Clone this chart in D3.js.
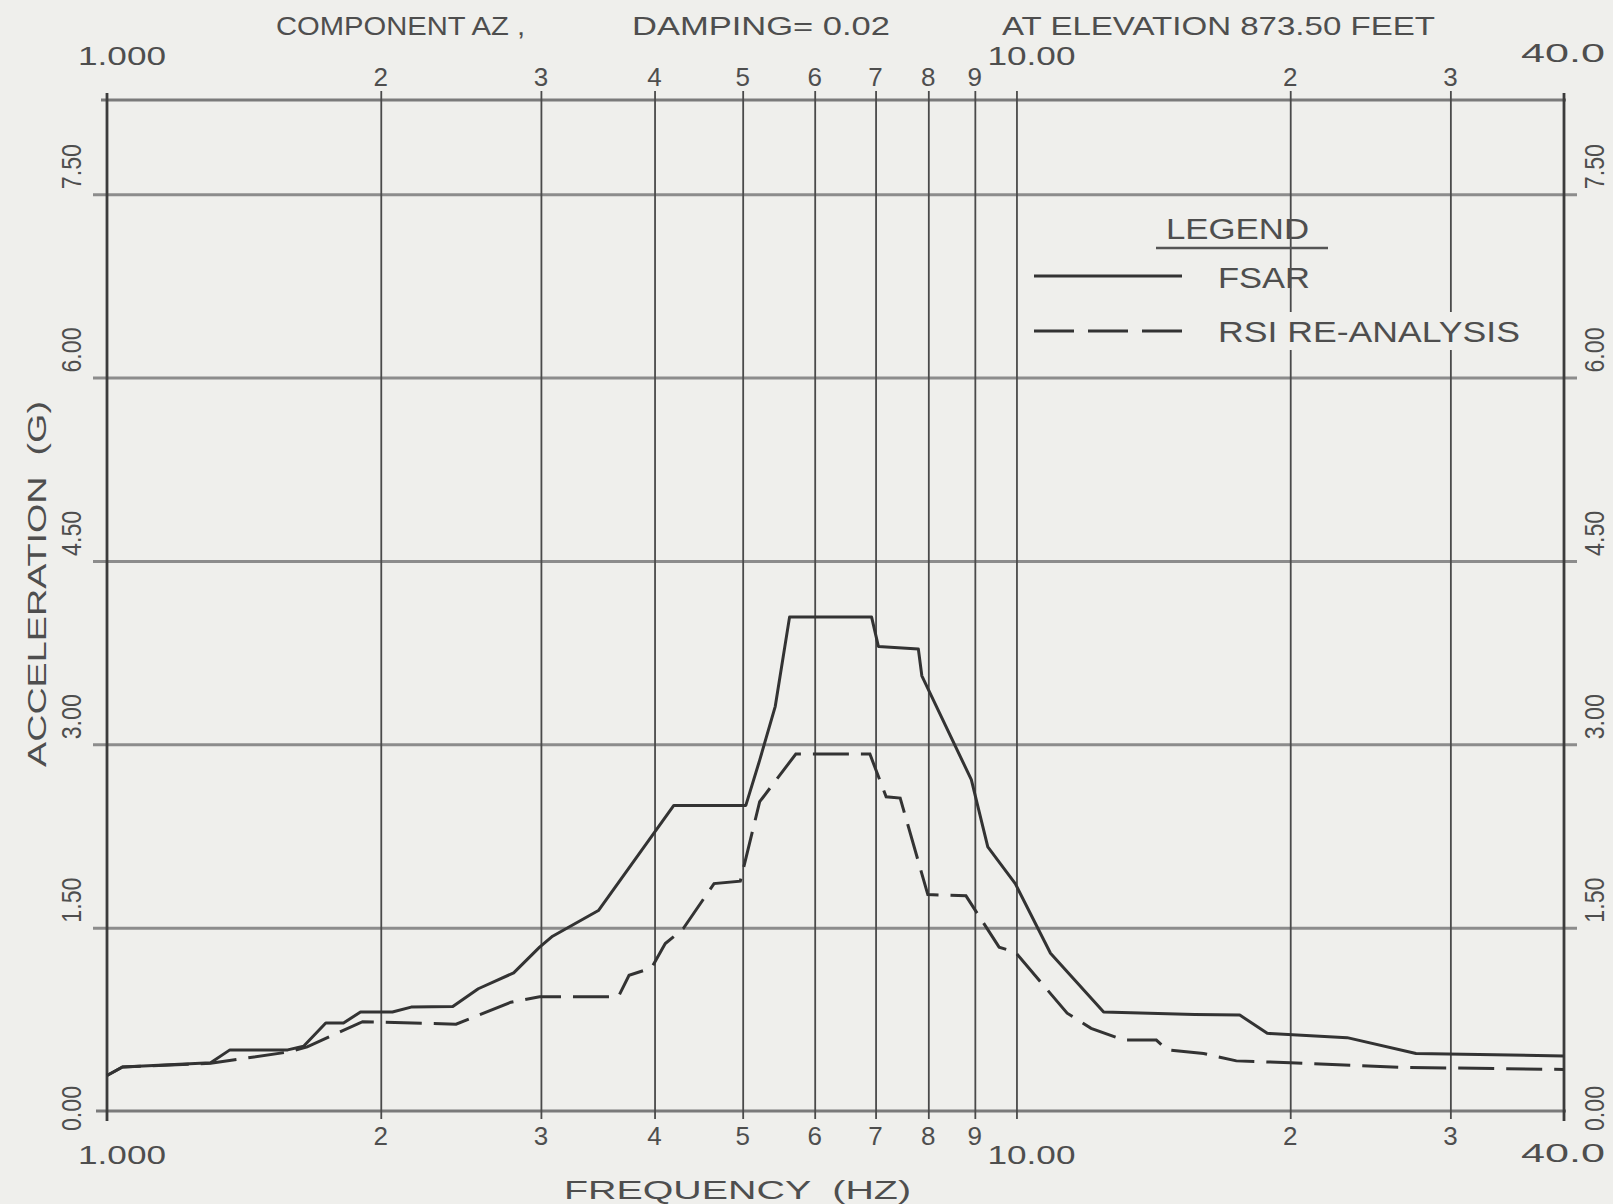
<!DOCTYPE html>
<html>
<head>
<meta charset="utf-8">
<script src="https://cdnjs.cloudflare.com/ajax/libs/d3/7.8.5/d3.min.js"></script>
<style>
  html, body { margin: 0; padding: 0; background: #efefec; }
  svg text { font-family: "Liberation Sans", Arial, sans-serif; fill: #4e4e4e; white-space: pre; }
</style>
</head>
<body>
<div id="chart"></div>
<script>
// response spectrum, component AZ, damping 0.02, elevation 873.50 ft

const fsarFreq = [1.00, 1.04, 1.30, 1.365, 1.58, 1.645, 1.74, 1.82, 1.90, 2.06, 2.16, 2.40, 2.56, 2.80, 2.99, 3.09, 3.47,
                  4.20, 5.04, 5.22, 5.43, 5.63, 6.93, 7.05, 7.80, 7.87, 8.92, 9.30, 9.97, 10.9, 12.47, 15.7, 17.6,
                  18.87, 23.1, 27.5, 40.0];
const fsarAcc = [0.29, 0.36, 0.395, 0.50, 0.50, 0.53, 0.72, 0.72, 0.81, 0.81, 0.85, 0.855, 1.00, 1.13, 1.34, 1.43, 1.64,
                 2.50, 2.50, 2.87, 3.31, 4.04, 4.04, 3.80, 3.78, 3.56, 2.71, 2.16, 1.86, 1.29, 0.81, 0.79, 0.785,
                 0.635, 0.60, 0.47, 0.45];

const rsiFreq = [1.00, 1.04, 1.30, 1.59, 1.66, 1.91, 2.42, 2.78, 2.99, 3.65, 3.75, 3.97, 4.11, 4.30, 4.65, 4.97, 5.22,
                 5.72, 6.90, 7.19, 7.45, 7.99, 8.80, 9.57, 9.97, 11.37, 12.08, 13.12, 14.25, 14.65, 16.06, 17.45,
                 20.0, 26.4, 40.0];
const rsiAcc = [0.29, 0.36, 0.39, 0.485, 0.525, 0.73, 0.71, 0.89, 0.935, 0.935, 1.11, 1.17, 1.37, 1.49, 1.86, 1.88, 2.53,
                2.92, 2.92, 2.57, 2.56, 1.77, 1.76, 1.34, 1.30, 0.80, 0.676, 0.58, 0.58, 0.50, 0.47, 0.41,
                0.395, 0.357, 0.34];

const minorFreqs = [2, 3, 4, 5, 6, 7, 8, 9, 20, 30];
const minorLabels = ["2", "3", "4", "5", "6", "7", "8", "9", "2", "3"];
const majorFreqs = [1, 10, 40];
const majorLabels = ["1.000", "10.00", "40.0"];
const accTicks = [0, 1.5, 3, 4.5, 6, 7.5];
const accLabels = ["0.00", "1.50", "3.00", "4.50", "6.00", "7.50"];

const titleParts = ["COMPONENT AZ ,", "DAMPING= 0.02", "AT ELEVATION 873.50 FEET"];
const seriesNames = ["FSAR", "RSI RE-ANALYSIS"];

const W = 1613, H = 1204;
const bg = "#efefec";

const x = d3.scaleLog().domain([1, 40]).range([107, 1564]);
const y = d3.scaleLinear().domain([0, 8.27]).range([1111, 100]);
const yTop = y.range()[1], yBottom = y(0);

const svg = d3.select("#chart").append("svg")
    .attr("width", W).attr("height", H)
    .style("display", "block");

svg.append("rect").attr("width", W).attr("height", H).attr("fill", bg);

// horizontal grid
svg.append("g")
    .attr("transform", `translate(93,0)`)
    .call(d3.axisRight(y).tickValues(accTicks.filter(v => v > 0)).tickSize(1577 - 93).tickFormat(""))
    .call(g => g.select(".domain").remove())
    .selectAll("line")
    .attr("stroke", "#8c8c8c").attr("stroke-width", 3);

// top and bottom frame lines
svg.append("g").selectAll("line")
    .data([yTop, yBottom])
    .join("line")
    .attr("x1", (d, i) => i ? 96 : 101).attr("x2", 1566)
    .attr("y1", d => d).attr("y2", d => d)
    .attr("stroke", "#7a7a7a").attr("stroke-width", 3);

// vertical grid incl. 10
svg.append("g")
    .attr("transform", `translate(0,${yBottom + 8})`)
    .call(d3.axisTop(x).tickValues(minorFreqs.concat([10])).tickSize(yBottom + 8 - (yTop - 9)).tickFormat(""))
    .call(g => g.select(".domain").remove())
    .selectAll("line")
    .attr("stroke", "#4a4a4a").attr("stroke-width", 1.8);

// left / right borders
svg.append("g").selectAll("line")
    .data([1, 40])
    .join("line")
    .attr("x1", d => x(d)).attr("x2", d => x(d))
    .attr("y1", yTop - 7).attr("y2", yBottom + 10)
    .attr("stroke", "#3c3c3c").attr("stroke-width", 2.8);

// legend knockout behind second label (gridline interrupted there)
svg.append("rect")
    .attr("x", 1214).attr("y", 312).attr("width", 312).attr("height", 38)
    .attr("fill", bg);

// curves
const line = d3.line().x(d => x(d[0])).y(d => y(d[1]));
const fsar = fsarFreq.map((f, i) => [f, fsarAcc[i]]);
const rsi = rsiFreq.map((f, i) => [f, rsiAcc[i]]);

svg.append("path").datum(fsar)
    .attr("d", line).attr("fill", "none")
    .attr("stroke", "#333").attr("stroke-width", 3).attr("stroke-linejoin", "round");
svg.append("path").datum(rsi)
    .attr("d", line).attr("fill", "none")
    .attr("stroke", "#333").attr("stroke-width", 3)
    .attr("stroke-dasharray", "36,12");

// title
const titlePos = [[276, 249], [632, 258], [1002, 433]];
svg.append("g").selectAll("text")
    .data(titleParts)
    .join("text")
    .attr("x", (d, i) => titlePos[i][0]).attr("y", 35)
    .attr("textLength", (d, i) => titlePos[i][1]).attr("lengthAdjust", "spacingAndGlyphs")
    .style("font-size", "25px")
    .text(d => d);

// x tick labels, top and bottom
[[86, 65, 62], [1145, 1164, 1162]].forEach(([minorY, majorY, lastY]) => {
  svg.append("g").selectAll("text")
      .data(minorFreqs)
      .join("text")
      .attr("x", d => x(d)).attr("y", minorY)
      .attr("text-anchor", "middle")
      .style("font-size", "26px")
      .text((d, i) => minorLabels[i]);
  svg.append("g").selectAll("text")
      .data(majorFreqs)
      .join("text")
      .attr("x", d => Math.min(x(d) + 15, W - 50)).attr("y", (d, i) => i === 2 ? lastY : majorY)
      .attr("text-anchor", "middle")
      .attr("textLength", (d, i) => i === 2 ? 84 : 88).attr("lengthAdjust", "spacingAndGlyphs")
      .style("font-size", "25px")
      .text((d, i) => majorLabels[i]);
});

// y tick labels, rotated, both sides
[81, 1604].forEach(bx => {
  svg.append("g").selectAll("text")
      .data(accTicks)
      .join("text")
      .attr("transform", d => `translate(${bx},${y(d) + (d === 0 ? 20 : -5)}) rotate(-90)`)
      .attr("textLength", 45).attr("lengthAdjust", "spacingAndGlyphs")
      .style("font-size", "27px")
      .text((d, i) => accLabels[i]);
});

// axis titles
svg.append("text")
    .attr("x", 564).attr("y", 1199)
    .attr("textLength", 347).attr("lengthAdjust", "spacingAndGlyphs")
    .style("font-size", "25px")
    .text("FREQUENCY  (HZ)");
svg.append("text")
    .attr("transform", "translate(46,767) rotate(-90)")
    .attr("textLength", 366).attr("lengthAdjust", "spacingAndGlyphs")
    .style("font-size", "25px")
    .text("ACCELERATION  (G)");

// legend
const legend = svg.append("g");
legend.append("text")
    .attr("x", 1166).attr("y", 239)
    .attr("textLength", 143).attr("lengthAdjust", "spacingAndGlyphs")
    .style("font-size", "29px")
    .text("LEGEND");
legend.append("line")
    .attr("x1", 1156).attr("x2", 1328).attr("y1", 248).attr("y2", 248)
    .attr("stroke", "#555").attr("stroke-width", 2.5);
const legendRows = [[276, 288, 92, null], [331, 342, 302, "40,14"]];
seriesNames.forEach((name, i) => {
  const [ly, ty, tw, dash] = legendRows[i];
  legend.append("line")
      .attr("x1", 1034).attr("x2", 1182).attr("y1", ly).attr("y2", ly)
      .attr("stroke", "#333").attr("stroke-width", 3)
      .attr("stroke-dasharray", dash);
  legend.append("text")
      .attr("x", 1218).attr("y", ty)
      .attr("textLength", tw).attr("lengthAdjust", "spacingAndGlyphs")
      .style("font-size", "29px")
      .text(name);
});
</script>
</body>
</html>
